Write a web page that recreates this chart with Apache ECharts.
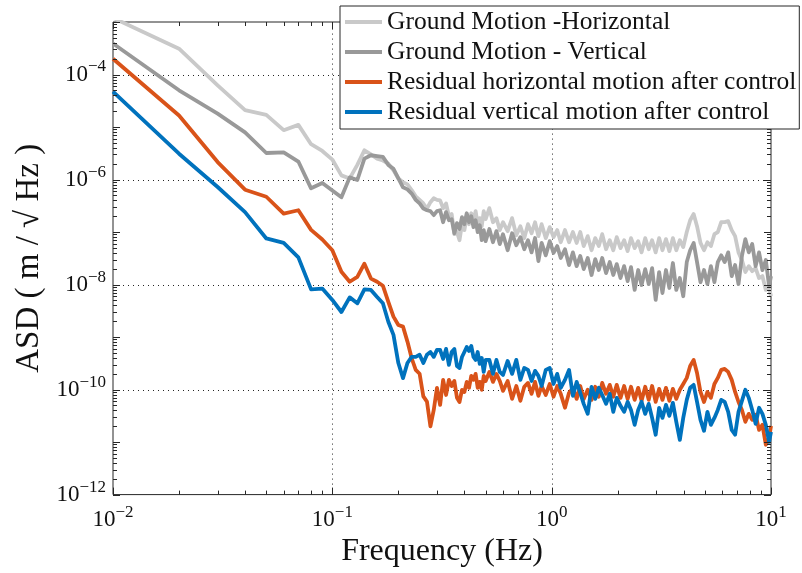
<!DOCTYPE html>
<html>
<head>
<meta charset="utf-8">
<style>
  html, body { margin: 0; padding: 0; background: #fff; }
  #chart { width: 802px; height: 573px; }
</style>
<script src="https://cdn.jsdelivr.net/npm/echarts@6/dist/echarts.min.js"></script>
</head>
<body>
<div id="chart"></div>
<script>
// frequency grid (Hz)
const freq = [
  0.01, 0.02, 0.03, 0.04, 0.05, 0.06, 0.07, 0.08, 0.09, 0.10,
  0.11, 0.12, 0.13, 0.14, 0.15, 0.16, 0.17, 0.18, 0.19, 0.20,
  0.21, 0.22, 0.23, 0.24, 0.25, 0.26, 0.27, 0.28, 0.29, 0.30,
  0.31, 0.32, 0.33, 0.34, 0.35, 0.36, 0.37, 0.38, 0.39, 0.40,
  0.41, 0.42, 0.43, 0.44, 0.45, 0.46, 0.47, 0.48, 0.49, 0.50,
  0.52, 0.54, 0.56, 0.58, 0.60, 0.63, 0.66, 0.69, 0.72, 0.75,
  0.78, 0.81, 0.84, 0.87, 0.90, 0.94, 0.98, 1.02, 1.06, 1.10,
  1.15, 1.20, 1.25, 1.30, 1.35, 1.40, 1.46, 1.52, 1.58, 1.64,
  1.70, 1.77, 1.84, 1.91, 1.98, 2.06, 2.14, 2.22, 2.30, 2.39,
  2.48, 2.57, 2.67, 2.77, 2.87, 2.98, 3.09, 3.20, 3.32, 3.44,
  3.57, 3.70, 3.84, 3.98, 4.13, 4.28, 4.44, 4.60, 4.77, 4.95,
  5.13, 5.32, 5.52, 5.72, 5.93, 6.15, 6.38, 6.62, 6.86, 7.11,
  7.37, 7.64, 7.92, 8.21, 8.51, 8.82, 9.14, 9.47, 9.80, 10.0
];

// ground motion - horizontal (m/sqrt(Hz))
const groundH = [
  1.2e-3, 3.1e-4, 6.2e-5, 2.1e-5, 1.7e-5, 8.7e-6, 1.1e-5, 4.7e-6, 3.5e-6, 2.4e-6,
  1.2e-6, 1.05e-6, 1.9e-6, 3.6e-6, 3.0e-6, 2.5e-6, 2.3e-6, 2.0e-6, 1.5e-6, 1.05e-6,
  8.9e-7, 8.1e-7, 6.3e-7, 4.8e-7, 4.1e-7, 3.5e-7, 2.8e-7, 3.7e-7, 4.4e-7, 4.1e-7,
  4.0e-7, 2.85e-7, 3.5e-7, 2.0e-7, 2.2e-7, 9.1e-8, 1.0e-7, 7.0e-8, 1.41e-7, 1.09e-7,
  2.0e-7, 1.41e-7, 2.28e-7, 1.54e-7, 2.5e-7, 1.41e-7, 1.84e-7, 1.29e-7, 2.5e-7, 1.76e-7,
  2.85e-7, 1.54e-7, 1.84e-7, 1.09e-7, 1.54e-7, 1.04e-7, 1.84e-7, 8.7e-8, 1.29e-7, 7.66e-8,
  1.41e-7, 9.5e-8, 1.54e-7, 8.36e-8, 1.41e-7, 7.66e-8, 1.24e-7, 8.0e-8, 1.09e-7, 6.4e-8,
  1.09e-7, 6.4e-8, 1.0e-7, 6.2e-8, 1.0e-7, 5.4e-8, 8.36e-8, 4.5e-8, 7.66e-8, 5.4e-8,
  9.1e-8, 4.7e-8, 7.0e-8, 4.5e-8, 8.0e-8, 4.94e-8, 7.0e-8, 4.33e-8, 7.66e-8, 4.94e-8,
  6.7e-8, 4.1e-8, 7.66e-8, 4.7e-8, 7.0e-8, 4.1e-8, 7.66e-8, 4.5e-8, 7.33e-8, 4.33e-8,
  7.66e-8, 4.5e-8, 7.0e-8, 5.16e-8, 1.0e-7, 1.68e-7, 2.2e-7, 1.29e-7, 6.2e-8, 4.5e-8,
  6.4e-8, 5.4e-8, 9.1e-8, 1.0e-7, 1.54e-7, 1.54e-7, 1.61e-7, 1.09e-7, 8.36e-8, 4.1e-8,
  2.92e-8, 1.73e-8, 2.24e-8, 1.8e-8, 2.06e-8, 1.33e-8, 1.45e-8, 7.9e-9, 8.6e-9, 6.0e-9
];

// ground motion - vertical
const groundV = [
  3.9e-4, 5.0e-5, 1.8e-5, 7.9e-6, 3.2e-6, 3.3e-6, 2.2e-6, 6.8e-7, 8.6e-7, 6.2e-7,
  4.6e-7, 1.1e-6, 9.8e-7, 2.5e-6, 2.9e-6, 2.8e-6, 2.7e-6, 1.9e-6, 1.6e-6, 1.05e-6,
  7.1e-7, 6.5e-7, 5.4e-7, 4.1e-7, 3.5e-7, 2.8e-7, 2.6e-7, 2.5e-7, 2.1e-7, 2.5e-7,
  2.6e-7, 1.54e-7, 2.4e-7, 1.68e-7, 1.76e-7, 9.5e-8, 1.48e-7, 1.14e-7, 1.92e-7, 1.41e-7,
  2.28e-7, 1.54e-7, 2.0e-7, 1.24e-7, 1.68e-7, 1.0e-7, 1.35e-7, 7.0e-8, 1.09e-7, 6.7e-8,
  1.14e-7, 6.4e-8, 1.04e-7, 5.9e-8, 9.1e-8, 4.5e-8, 9.5e-8, 5.6e-8, 8.0e-8, 4.7e-8,
  7.0e-8, 4.1e-8, 7.7e-8, 2.8e-8, 6.2e-8, 3.6e-8, 6.7e-8, 4.0e-8, 5.4e-8, 3.2e-8,
  4.7e-8, 2.35e-8, 4.1e-8, 2.24e-8, 3.5e-8, 1.97e-8, 3.2e-8, 1.52e-8, 3.05e-8, 1.89e-8,
  3.2e-8, 1.65e-8, 2.68e-8, 1.52e-8, 2.45e-8, 1.33e-8, 2.24e-8, 1.16e-8, 2.15e-8, 7.9e-9,
  1.89e-8, 9.8e-9, 1.97e-8, 1.02e-8, 2.06e-8, 5.1e-9, 1.73e-8, 6.9e-9, 1.89e-8, 8.6e-9,
  2.57e-8, 7.9e-9, 1.33e-8, 6.0e-9, 2.68e-8, 4.5e-8, 6.2e-8, 2.68e-8, 1.11e-8, 1.89e-8,
  1.02e-8, 2.24e-8, 1.11e-8, 2.68e-8, 3.6e-8, 2.68e-8, 4.1e-8, 1.45e-8, 2.35e-8, 1.02e-8,
  3.5e-8, 7.3e-8, 4.1e-8, 5.9e-8, 2.24e-8, 4.1e-8, 1.89e-8, 2.93e-8, 9.4e-9, 1.45e-8
];

// residual horizontal motion after control
const residH = [
  2.0e-4, 1.66e-5, 2.15e-6, 6.4e-7, 4.7e-7, 2.25e-7, 2.6e-7, 1.1e-7, 7.2e-8, 4.5e-8,
  1.75e-8, 1.13e-8, 1.4e-8, 2.5e-8, 1.3e-8, 1.13e-8, 9.5e-9, 4.7e-9, 2.45e-9, 1.7e-9,
  1.58e-9, 8.2e-10, 3.95e-10, 2.37e-10, 2.0e-10, 7.4e-11, 5.9e-11, 2.0e-11, 4.1e-11, 1.08e-10,
  5.1e-11, 1.53e-10, 7.9e-11, 1.53e-10, 1.17e-10, 1.46e-10, 7.0e-11, 5.8e-11, 9.9e-11, 9.0e-11,
  1.4e-10, 1.08e-10, 1.82e-10, 1.53e-10, 1.99e-10, 1.08e-10, 1.4e-10, 9.9e-11, 1.82e-10, 1.46e-10,
  2.17e-10, 1.4e-10, 1.99e-10, 1.46e-10, 9.45e-11, 1.46e-10, 6.65e-11, 1.17e-10, 6.1e-11, 1.13e-10,
  1.34e-10, 8.3e-11, 1.4e-10, 7.6e-11, 1.17e-10, 7.9e-11, 1.28e-10, 7.3e-11, 1.17e-10, 8.3e-11,
  4.5e-11, 8.66e-11, 1.08e-10, 6.65e-11, 1.17e-10, 6.65e-11, 9.9e-11, 6.37e-11, 1.13e-10, 7.3e-11,
  1.34e-10, 8.3e-11, 1.23e-10, 7.3e-11, 1.23e-10, 6.95e-11, 1.17e-10, 6.65e-11, 1.13e-10, 6.37e-11,
  1.08e-10, 6.1e-11, 1.13e-10, 6.37e-11, 1.17e-10, 5.84e-11, 1.03e-10, 6.37e-11, 1.08e-10, 6.1e-11,
  1.03e-10, 6.65e-11, 9.9e-11, 1.28e-10, 1.67e-10, 2.82e-10, 3.67e-10, 2.07e-10, 9.0e-11, 5.8e-11,
  9.0e-11, 6.95e-11, 1.28e-10, 1.67e-10, 2.37e-10, 2.47e-10, 2.17e-10, 1.53e-10, 9.0e-11, 5.8e-11,
  4.1e-11, 2.43e-11, 3.45e-11, 2.65e-11, 3.3e-11, 1.71e-11, 2.13e-11, 8.9e-12, 1.2e-11, 2.04e-11
];

// residual vertical motion after control
const residV = [
  4.7e-5, 3.1e-6, 7.2e-7, 2.4e-7, 7.55e-8, 6.2e-8, 3.3e-8, 8.1e-9, 8.4e-9, 5.1e-9,
  3.0e-9, 5.7e-9, 4.4e-9, 8.1e-9, 7.9e-9, 5.8e-9, 4.4e-9, 1.96e-9, 1.1e-9, 3.2e-10,
  1.65e-10, 3.2e-10, 4.2e-10, 4.2e-10, 4.6e-10, 3.2e-10, 4.6e-10, 5.2e-10, 4.2e-10, 5.7e-10,
  5.7e-10, 3.83e-10, 5.94e-10, 2.95e-10, 5.2e-10, 5.94e-10, 2.82e-10, 2.58e-10, 4.18e-10, 5.2e-10,
  6.48e-10, 5.44e-10, 6.77e-10, 4.18e-10, 3.67e-10, 5.2e-10, 3.08e-10, 4.0e-10, 2.17e-10, 3.67e-10,
  3.67e-10, 1.99e-10, 3.67e-10, 2.17e-10, 1.9e-10, 3.51e-10, 1.99e-10, 3.67e-10, 1.53e-10, 2.58e-10,
  2.37e-10, 1.46e-10, 2.27e-10, 1.82e-10, 1.17e-10, 2.37e-10, 2.58e-10, 1.28e-10, 1.99e-10, 1.08e-10,
  1.53e-10, 2.37e-10, 7.6e-11, 1.4e-10, 8.66e-11, 5.35e-11, 3.45e-11, 1.13e-10, 6.65e-11, 1.08e-10,
  7.9e-11, 5.35e-11, 8.3e-11, 3.77e-11, 6.95e-11, 4.9e-11, 3.77e-11, 5.84e-11, 4.1e-11, 2.13e-11,
  4.1e-11, 5.84e-11, 3.45e-11, 5.35e-11, 2.89e-11, 1.38e-11, 4.5e-11, 2.89e-11, 5.1e-11, 3.16e-11,
  5.59e-11, 2.43e-11, 1.1e-11, 2.89e-11, 6.37e-11, 1.08e-10, 1.23e-10, 5.84e-11, 2.65e-11, 1.64e-11,
  3.77e-11, 2.13e-11, 2.89e-11, 4.1e-11, 6.37e-11, 5.84e-11, 3.77e-11, 1.71e-11, 1.38e-11, 3.77e-11,
  6.1e-11, 9.9e-11, 6.95e-11, 4.1e-11, 2.23e-11, 4.5e-11, 3.45e-11, 2.13e-11, 1.01e-11, 1.57e-11
];

const seriesNames = [
  'Ground Motion -Horizontal',
  'Ground Motion - Vertical',
  'Residual horizontal motion after control',
  'Residual vertical motion after control'
];
const seriesColors = ['#c9c9c9', '#999999', '#d95319', '#0072bd'];

// axis limits, dotted grid positions
const X_MIN = 0.01, X_MAX = 10;
const Y_MIN = 1e-12, Y_MAX = 1e-3;
const xGridLines = [0.1, 1];
const yGridLines = [1e-10, 1e-8, 1e-6, 1e-4];

const FONT = 'Liberation Serif';
const INK = '#262626';

// log tick marks (decades + 2..9)
function logTicks(lo, hi) {
  const out = [];
  for (let e = lo; e <= hi; e++) {
    for (let m = 1; m <= 9; m++) {
      const v = m * Math.pow(10, e);
      if (v > Math.pow(10, hi) * 1.0001) break;
      out.push({ v: v, major: m === 1 });
    }
  }
  return out;
}
const xTicks = logTicks(-2, 1);
const yTicks = logTicks(-12, -3);

const px = v => Math.round(v) + 0.5;

function renderGrid(params, api) {
  const p0 = api.coord([X_MIN, Y_MIN]);
  const p1 = api.coord([X_MAX, Y_MAX]);
  const dot = { stroke: INK, lineWidth: 1, lineDash: [1, 4] };
  const children = [];
  xGridLines.forEach(v => {
    const x = px(api.coord([v, Y_MIN])[0]);
    children.push({ type: 'line', shape: { x1: x, y1: p0[1], x2: x, y2: p1[1] }, style: dot });
  });
  yGridLines.forEach(v => {
    const y = px(api.coord([X_MIN, v])[1]);
    children.push({ type: 'line', shape: { x1: p0[0], y1: y, x2: p1[0], y2: y }, style: dot });
  });
  return { type: 'group', children: children };
}

function renderTicks(params, api) {
  const p0 = api.coord([X_MIN, Y_MIN]);
  const p1 = api.coord([X_MAX, Y_MAX]);
  const st = { stroke: INK, lineWidth: 1 };
  const children = [];
  xTicks.forEach(t => {
    const x = px(api.coord([t.v, Y_MIN])[0]);
    const len = t.major ? 7 : 4;
    children.push({ type: 'line', shape: { x1: x, y1: p0[1], x2: x, y2: p0[1] - len }, style: st });
    children.push({ type: 'line', shape: { x1: x, y1: p1[1], x2: x, y2: p1[1] + len }, style: st });
  });
  yTicks.forEach(t => {
    const y = px(api.coord([X_MIN, t.v])[1]);
    const len = t.major ? 7 : 4;
    children.push({ type: 'line', shape: { x1: p0[0], y1: y, x2: p0[0] + len, y2: y }, style: st });
    children.push({ type: 'line', shape: { x1: p1[0], y1: y, x2: p1[0] - len, y2: y }, style: st });
  });
  return { type: 'group', children: children };
}

function powLabel(v) {
  const e = Math.round(Math.log10(v));
  return '{b|10}{s|' + (e < 0 ? '\u2212' + (-e) : e) + '}';
}
const labelRich = {
  b: { fontFamily: FONT, fontSize: 23, color: '#111' },
  s: { fontFamily: FONT, fontSize: 17, color: '#111', padding: [0, 0, 15, 0] }
};

const lineSeries = [groundH, groundV, residH, residV].map((vals, i) => ({
  name: seriesNames[i],
  type: 'line',
  data: freq.map((f, j) => [f, vals[j]]),
  showSymbol: false,
  symbol: 'none',
  color: seriesColors[i],
  lineStyle: { width: 3.8, color: seriesColors[i], join: 'round' },
  z: 3,
  animation: false
}));

const chart = echarts.init(document.getElementById('chart'));
chart.setOption({
  animation: false,
  grid: {
    left: 113, top: 22, right: 31, bottom: 78,
    show: true, borderColor: INK, borderWidth: 1, backgroundColor: '#fff'
  },
  legend: {
    data: seriesNames,
    orient: 'vertical',
    left: 340, top: 6,
    icon: 'rect',
    itemWidth: 37, itemHeight: 4,
    itemGap: 4,
    padding: [3, 3, 4, 5],
    backgroundColor: '#fff',
    borderColor: INK, borderWidth: 1,
    textStyle: { fontFamily: FONT, fontSize: 25.5, color: '#111', lineHeight: 25 },
    z: 10
  },
  xAxis: {
    type: 'log', logBase: 10, min: X_MIN, max: X_MAX,
    axisLine: { show: false }, axisTick: { show: false }, splitLine: { show: false },
    axisLabel: {
      formatter: powLabel, rich: labelRich, margin: 9,
      showMinLabel: true, showMaxLabel: true, hideOverlap: false
    },
    name: 'Frequency (Hz)', nameLocation: 'middle', nameGap: 36,
    nameTextStyle: { fontFamily: FONT, fontSize: 32, color: '#111' }
  },
  yAxis: {
    type: 'log', logBase: 10, min: Y_MIN, max: Y_MAX,
    axisLine: { show: false }, axisTick: { show: false }, splitLine: { show: false },
    axisLabel: {
      formatter: v => {
        const e = Math.round(Math.log10(v));
        return (e % 2 === 0 && e <= -4) ? powLabel(v) : '';
      },
      rich: labelRich, margin: 7,
      showMinLabel: true, showMaxLabel: true, hideOverlap: false
    },
    name: 'ASD ( m / \u221A Hz )', nameLocation: 'middle', nameGap: 60, nameRotate: 90,
    nameTextStyle: { fontFamily: FONT, fontSize: 33, color: '#111' }
  },
  series: [
    {
      type: 'custom', coordinateSystem: 'cartesian2d', silent: true, z: 1,
      data: [[1, 1e-6]], renderItem: renderGrid, clip: false
    }
  ].concat(lineSeries).concat([
    {
      type: 'custom', coordinateSystem: 'cartesian2d', silent: true, z: 5,
      data: [[1, 1e-6]], renderItem: renderTicks, clip: false
    }
  ])
});
</script>
</body>
</html>
